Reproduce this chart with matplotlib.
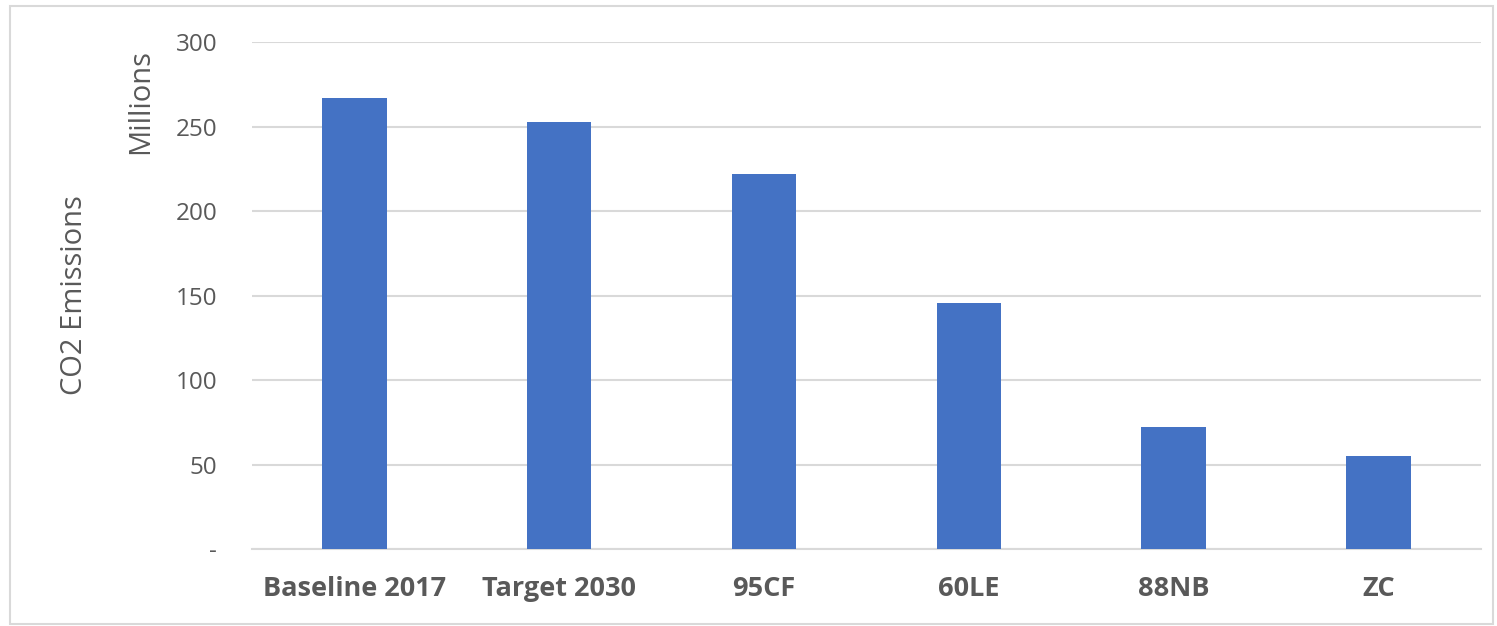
import matplotlib.pyplot as plt
from matplotlib.patches import Rectangle

# CO2 emissions by scenario (millions)
scenarios = ['Baseline 2017', 'Target 2030', '95CF', '60LE', '88NB', 'ZC']
emissions = [267, 253, 222, 146, 72.5, 55.5]
y_ticks = [0, 50, 100, 150, 200, 250, 300]
y_tick_labels = ['-', '50', '100', '150', '200', '250', '300']

text_color = '#595959'
plt.rcParams['font.family'] = ['Open Sans', 'DejaVu Sans']

fig = plt.figure(figsize=(14.97, 6.26), dpi=100)
ax = fig.add_axes([0.1683, 0.1225, 0.8210, 0.8099])

x = range(len(scenarios))
ax.bar(x, emissions, width=0.315, color='#4472C4', zorder=3)

ax.set_xlim(-0.5, len(scenarios) - 0.5)
ax.set_ylim(0, 300)
ax.set_yticks(y_ticks)
ax.set_yticklabels(y_tick_labels, fontsize=17.5, color=text_color)
ax.set_xticks(list(x))
ax.set_xticklabels(scenarios, fontsize=19.5, fontweight='bold', color=text_color)
ax.tick_params(axis='y', length=0, pad=25)
ax.tick_params(axis='x', length=0, pad=19)

ax.grid(axis='y', color='#D9D9D9', linewidth=1.5, zorder=0)
for side in ['top', 'right', 'left']:
    ax.spines[side].set_visible(False)
ax.spines['bottom'].set_color('#D9D9D9')
ax.spines['bottom'].set_linewidth(1.5)

fig.text(0.050, 0.529, 'CO2 Emissions', rotation=90, ha='center', va='center',
         fontsize=21, color=text_color)
fig.text(0.094, 0.837, 'Millions', rotation=90, ha='center', va='center',
         fontsize=21, color=text_color)

# light outer frame like the source chart
fig.patches.append(Rectangle((0.007, 0.003), 0.99, 0.988, transform=fig.transFigure,
                             fill=False, edgecolor='#D9D9D9', linewidth=1.5))

fig.savefig('out.png', dpi=100)
